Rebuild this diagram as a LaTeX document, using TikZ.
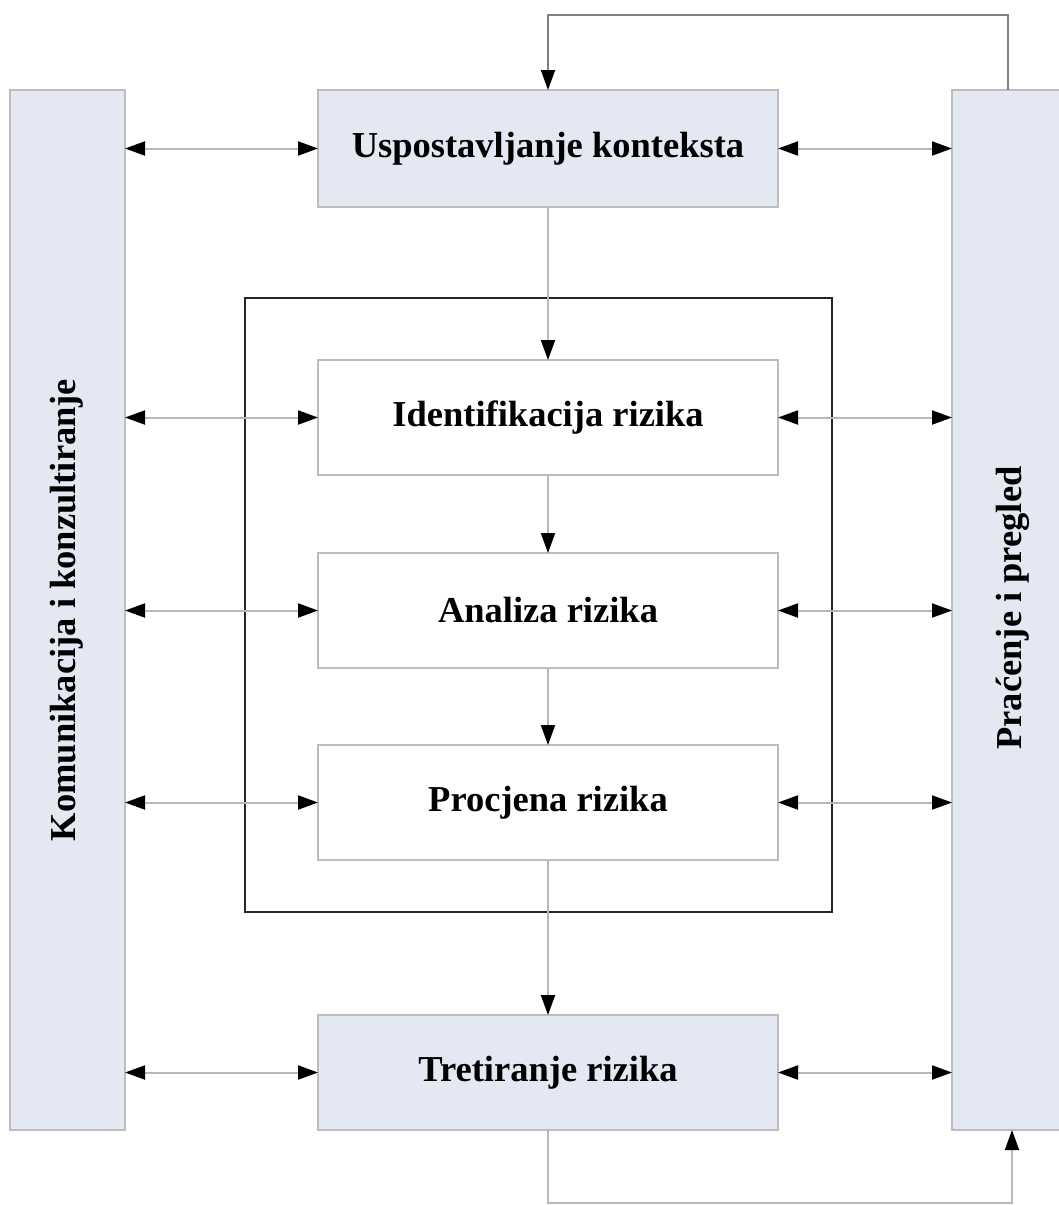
\documentclass[tikz,border=0pt]{standalone}
\usepackage{fontspec}
\setmainfont{Liberation Serif}
\usetikzlibrary{arrows.meta}
\definecolor{boxfill}{HTML}{E3E8F3}
\definecolor{boxline}{HTML}{BDBDBD}
\definecolor{conn}{HTML}{B8B8B8}
\begin{document}
\begin{tikzpicture}[x=1pt,y=-1pt,
  every node/.style={inner sep=0pt,outer sep=0pt},
  lbl/.style={font=\bfseries\fontsize{36.5}{40}\selectfont},
  fillbox/.style={draw=boxline,line width=1.4pt,fill=boxfill,lbl},
  whitebox/.style={draw=boxline,line width=1.4pt,fill=white,lbl},
  conn/.style={draw=conn,line width=2pt},
  tip/.style={-{Triangle[length=20pt,width=14pt,color=black,fill=black]}},
  dtip/.style={{Triangle[length=20pt,width=14pt,color=black,fill=black]}-{Triangle[length=20pt,width=14pt,color=black,fill=black]}}
]
\useasboundingbox (0,0) rectangle (1058,1205);
% side boxes
\node[fillbox,minimum width=115pt,minimum height=1040pt,anchor=north west] (kom) at (10,90) {};
\node[rotate=90,lbl] (komt) at (67,610) {Komunikacija i konzultiranje};
\node[fillbox,minimum width=110pt,minimum height=1040pt,anchor=north west] (pra) at (952,90) {};
\node[rotate=90,lbl] (prat) at (1013,608) {Praćenje i pregled};
% frame
\node[draw=black!85,line width=2.6pt,minimum width=587pt,minimum height=614pt,anchor=north west] (frame) at (245,298) {};
% center boxes
\node[fillbox,minimum width=460pt,minimum height=117pt] (usp) at (548,148.5) {\raisebox{-3pt}{Uspostavljanje konteksta}};
\node[whitebox,minimum width=460pt,minimum height=115pt] (ide) at (548,417.5) {\raisebox{-3pt}{Identifikacija rizika}};
\node[whitebox,minimum width=460pt,minimum height=115pt] (ana) at (548,610.5) {\raisebox{-3pt}{Analiza rizika}};
\node[whitebox,minimum width=460pt,minimum height=115pt] (pro) at (548,802.5) {\raisebox{-3pt}{Procjena rizika}};
\node[fillbox,minimum width=460pt,minimum height=115pt] (tre) at (548,1072.5) {\raisebox{-3pt}{Tretiranje rizika}};
% vertical flow
\draw[conn,tip] (usp.south) -- (ide.north);
\draw[conn,tip] (ide.south) -- (ana.north);
\draw[conn,tip] (ana.south) -- (pro.north);
\draw[conn,tip] (pro.south) -- (tre.north);
% horizontal double arrows
\foreach \n in {usp,ide,ana,pro,tre}{
  \draw[conn,dtip] (kom.east |- \n.west) -- (\n.west);
  \draw[conn,dtip] (\n.east) -- (pra.west |- \n.east);
}
% loops
\coordinate (topR) at (1008,15);
\coordinate (botR) at (1012,1203);
\draw[draw=gray,line width=1.8pt,tip] (pra.north -| topR) -- (topR) -- (topR -| usp.north) -- (usp.north);
\draw[conn,tip] (tre.south) -- (tre.south |- botR) -- (botR) -- (pra.south -| botR);
\end{tikzpicture}
\end{document}
